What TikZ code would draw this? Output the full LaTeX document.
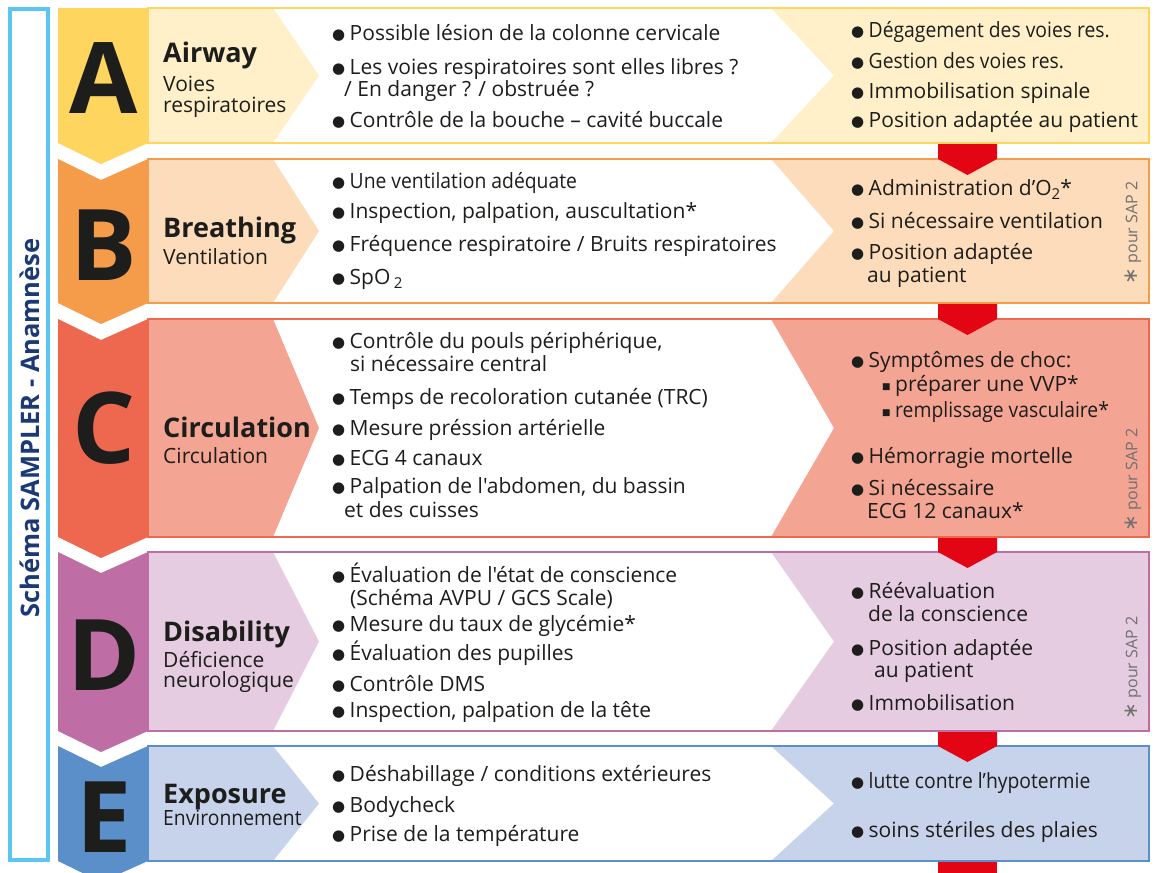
\documentclass[tikz,border=0pt]{standalone}
\usepackage{fontspec}
\newfontfamily\opensans{Open Sans}
\newfontfamily\dejavu{DejaVu Sans}
\usepackage{xcolor}
\usepackage{graphicx}
\usepackage{tikz}
\usetikzlibrary{positioning}

\definecolor{colA}{HTML}{FDD55F}
\definecolor{ltA}{HTML}{FFF0C9}
\definecolor{colB}{HTML}{F59C4A}
\definecolor{ltB}{HTML}{FDDCBB}
\definecolor{colC}{HTML}{ED684F}
\definecolor{ltC}{HTML}{F3A493}
\definecolor{colD}{HTML}{BF6EA5}
\definecolor{ltD}{HTML}{E6CCE1}
\definecolor{colE}{HTML}{5A8FC9}
\definecolor{ltE}{HTML}{C6D3EB}
\definecolor{alarm}{HTML}{E30513}
\definecolor{barblue}{HTML}{5CC6F2}
\definecolor{navy}{HTML}{1B3A75}
\definecolor{ink}{HTML}{1D1D1B}
\definecolor{sapgray}{HTML}{707070}

\newcommand\bul{\makebox[17.5pt][l]{\raisebox{1pt}{\dejavu\fontsize{15}{15}\selectfont ●}}}
\newcommand\sqbul{\makebox[13pt][l]{\raisebox{2pt}{\dejavu\fontsize{9}{9}\selectfont ■}}}
\newcommand\subtwo{\raisebox{-4pt}{\fontsize{15}{15}\selectfont 2}}
\newcommand\squeeze[1]{\scalebox{0.92}[1]{#1}}

\begin{document}
\begin{tikzpicture}[x=1pt, y=-1pt]
\tikzstyle{item} = [anchor=base west, inner sep=0pt, font=\opensans\fontsize{21}{24}\selectfont, text=ink]
\tikzstyle{head} = [anchor=base west, inner sep=0pt, font=\opensans\fontsize{27}{30}\selectfont\bfseries, text=ink]
\tikzstyle{letter} = [anchor=base, inner sep=0pt, text depth=0pt, font=\opensans\fontsize{99}{99}\selectfont\bfseries, text=ink]
\tikzstyle{sap} = [rotate=90, inner sep=0pt, font=\opensans\fontsize{16}{18}\selectfont, text=sapgray]

\useasboundingbox (0,0) rectangle (1157,873);
\fill[white] (0,0) rectangle (1157,873);

% side bar
\draw[barblue, line width=4] (10,9) rectangle (48,860);
\node (title) [rotate=90, inner sep=0pt, font=\opensans\fontsize{25.5}{26}\selectfont\bfseries, text=navy] at (30,428) {Schéma SAMPLER - Anamnèse};

% rows: top / bottom / letter / notch
\foreach \t/\b/\r/\n in {8/143/A/0, 159/303/B/21, 319/537/C/21, 552/731/D/21, 746/861/E/21}{
  \pgfmathsetmacro\m{(\t+\b)/2}
  \fill[white] (148,\t) rectangle (1149,\b);
  \fill[lt\r] (148,\t) -- (273,\t) -- (319,\m) -- (273,\b) -- (148,\b) -- cycle;
  \fill[lt\r] (771,\t) -- (1149,\t) -- (1149,\b) -- (771,\b) -- (834,\m) -- cycle;
  \draw[col\r, line width=2.5] (148,\t) rectangle (1149,\b);
  \fill[col\r] (58,\t) -- (101,{\t+\n}) -- (148,\t) -- (148,\b) -- (101,{\b+21}) -- (58,\b) -- cycle;
}

% red arrows between the rows
\foreach \b/\t in {143/159, 303/319, 537/552, 731/746}{
  \fill[alarm] (938,\b+1) -- (997,\b+1) -- (997,\t) -- (967.5,\t+16) -- (938,\t) -- cycle;
}
\fill[alarm] (938,862) rectangle (997,880);

% A
\node (lA) [letter] at (104,113) {A};
\node (hA) [head] at (163,62) {Airway};
\node (sA1) [item] at (163,91) {Voies};
\node (sA2) [item] at (163,112) {respiratoires};
\node (mA1) [item] at (332,40) {\bul Possible lésion de la colonne cervicale};
\node (mA2) [item] at (332,74) {\bul Les voies respiratoires sont elles libres ?};
\node (mA3) [item] at (344,96) {/ En danger ? / obstruée ?};
\node (mA4) [item] at (332,127) {\bul Contrôle de la bouche – cavité buccale};
\node (rA1) [item] at (851,37) {\bul \squeeze{Dégagement des voies res.}};
\node (rA2) [item] at (851,68) {\bul \squeeze{Gestion des voies res.}};
\node (rA3) [item] at (851,98) {\bul Immobilisation spinale};
\node (rA4) [item] at (851,127) {\bul Position adaptée au patient};

% B
\node (lB) [letter] at (104,280) {B};
\node (hB) [head] at (163,237) {Breathing};
\node (sB1) [item] at (163,264) {Ventilation};
\node (mB1) [item] at (332,188) {\bul \squeeze{Une ventilation adéquate}};
\node (mB2) [item] at (332,218) {\bul Inspection, palpation, auscultation*};
\node (mB3) [item] at (332,251) {\bul Fréquence respiratoire / Bruits respiratoires};
\node (mB4) [item] at (332,284) {\bul SpO\,\subtwo};
\node (rB1) [item] at (851,195) {\bul Administration d’O\subtwo*};
\node (rB2) [item] at (851,228) {\bul Si nécessaire ventilation};
\node (rB3) [item] at (851,259) {\bul Position adaptée};
\node (rB4) [item] at (867,282) {au patient};
\node (sapB) [sap] at (1133,233) {{\dejavu\fontsize{20}{20}\selectfont ∗} pour SAP 2};

% C
\node (lC) [letter] at (104,463) {C};
\node (hC) [head] at (163,437) {Circulation};
\node (sC1) [item] at (163,463) {Circulation};
\node (mC1) [item] at (332,348) {\bul Contrôle du pouls périphérique,};
\node (mC2) [item] at (350,371) {si nécessaire central};
\node (mC3) [item] at (332,404) {\bul Temps de recoloration cutanée (TRC)};
\node (mC4) [item] at (332,435) {\bul Mesure préssion artérielle};
\node (mC5) [item] at (332,465) {\bul ECG 4 canaux};
\node (mC6) [item] at (332,493) {\bul Palpation de l'abdomen, du bassin};
\node (mC7) [item] at (344,517) {et des cuisses};
\node (rC1) [item] at (851,367) {\bul Symptômes de choc:};
\node (rC2) [item] at (882,391) {\sqbul préparer une VVP*};
\node (rC3) [item] at (882,417) {\sqbul \squeeze{remplissage vasculaire*}};
\node (rC4) [item] at (851,463) {\bul Hémorragie mortelle};
\node (rC5) [item] at (851,495) {\bul Si nécessaire};
\node (rC6) [item] at (867,518) {ECG 12 canaux*};
\node (sapC) [sap] at (1133,480) {{\dejavu\fontsize{20}{20}\selectfont ∗} pour SAP 2};

% D
\node (lD) [letter] at (104,690) {D};
\node (hD) [head] at (163,641) {Disability};
\node (sD1) [item] at (163,667) {Déficience};
\node (sD2) [item] at (163,687) {neurologique};
\node (mD1) [item] at (332,582) {\bul Évaluation de l'état de conscience};
\node (mD2) [item] at (350,605) {(Schéma AVPU / GCS Scale)};
\node (mD3) [item] at (332,631) {\bul Mesure du taux de glycémie*};
\node (mD4) [item] at (332,660) {\bul Évaluation des pupilles};
\node (mD5) [item] at (332,691) {\bul Contrôle DMS};
\node (mD6) [item] at (332,717) {\bul Inspection, palpation de la tête};
\node (rD1) [item] at (851,598) {\bul Réévaluation};
\node (rD2) [item] at (868,621) {de la conscience};
\node (rD3) [item] at (851,655) {\bul Position adaptée};
\node (rD4) [item] at (874,677) {au patient};
\node (rD5) [item] at (851,710) {\bul Immobilisation};
\node (sapD) [sap] at (1133,668) {{\dejavu\fontsize{20}{20}\selectfont ∗} pour SAP 2};

% E
\node (lE) [letter] at (104,852) {E};
\node (hE) [head] at (163,803) {Exposure};
\node (sE1) [item] at (163,825) {\squeeze{Environnement}};
\node (mE1) [item] at (332,781) {\bul Déshabillage / conditions extérieures};
\node (mE2) [item] at (332,812) {\bul Bodycheck};
\node (mE3) [item] at (332,841) {\bul Prise de la température};
\node (rE1) [item] at (851,788) {\bul \squeeze{lutte contre l’hypotermie}};
\node (rE2) [item] at (851,837) {\bul soins stériles des plaies};

\end{tikzpicture}
\end{document}
